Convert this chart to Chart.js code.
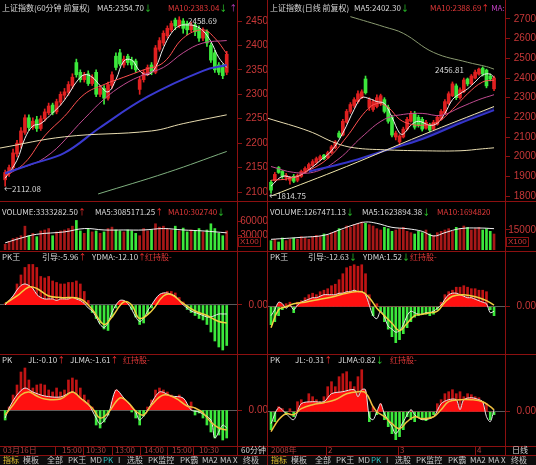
<!DOCTYPE html>
<html><head><meta charset="utf-8">
<script src="https://cdn.jsdelivr.net/npm/chart.js@4.4.0/dist/chart.umd.min.js"></script>
<style>
body{margin:0;background:#000;}
#wrap{position:relative;width:536px;height:465px;overflow:hidden;background:#000;font-family:"Noto Sans CJK SC",sans-serif;font-size:8px;}
canvas{position:absolute;}
.t{position:absolute;white-space:nowrap;line-height:10px;color:#d8d8d8;}
.u{color:#ff3030;} .d{color:#30e030;} .r{color:#e03838;} .p{color:#c040c0;} .g{color:#b04040;}
.hl{position:absolute;height:1px;background:#8c1010;}
.vl{position:absolute;width:1px;background:#8c1010;}
.box{position:absolute;border:1px solid #8c1010;color:#c83838;font-family:"Liberation Sans";font-size:8px;line-height:8px;padding:0 1px;}
#tabbar{position:absolute;left:0;top:456px;width:536px;height:9px;background:#0c0c0c;}
</style></head><body><div id="wrap">
<canvas id="priceL" width="268" height="201" style="left:0;top:0"></canvas>
<canvas id="priceR" width="268" height="201" style="left:268px;top:0"></canvas>
<canvas id="volL" width="268" height="48" style="left:0;top:202px"></canvas>
<canvas id="volR" width="268" height="48" style="left:268px;top:202px"></canvas>
<canvas id="pkwL" width="268" height="101" style="left:0;top:252px"></canvas>
<canvas id="pkwR" width="268" height="101" style="left:268px;top:252px"></canvas>
<canvas id="pkL" width="268" height="91" style="left:0;top:355px"></canvas>
<canvas id="pkR" width="268" height="91" style="left:268px;top:355px"></canvas>
<div id="tabbar"></div>

<div class="hl" style="left:0;top:201px;width:536px"></div>
<div class="hl" style="left:0;top:251px;width:536px"></div>
<div class="hl" style="left:0;top:354px;width:536px"></div>
<div class="hl" style="left:0;top:446px;width:536px"></div>
<div class="hl" style="left:0;top:455px;width:536px"></div>
<div class="vl" style="left:237px;top:0;height:455px"></div>
<div class="vl" style="left:267px;top:0;height:465px"></div>
<div class="vl" style="left:505px;top:0;height:455px"></div>
<div id="dateTicks"></div>

<div class="t" style="left:2px;top:3px">上证指数(60分钟 前复权)</div>
<div class="t" style="left:97px;top:3px">MA5:2354.70<span class="d">↓</span></div>
<div class="t r" style="left:168px;top:3px">MA10:2383.04<span class="d">↓</span> <span class="p">↑</span></div>
<div class="t" style="left:270px;top:3px">上证指数(日线 前复权)</div>
<div class="t" style="left:354px;top:3px">MA5:2402.30<span class="d">↓</span></div>
<div class="t r" style="left:430px;top:3px">MA10:2388.69<span class="u">↑</span> <span class="p">MA:</span></div>

<div class="t" style="left:188px;top:16px">2458.69</div>
<div class="t" style="left:4px;top:184px">←2112.08</div>
<div class="t" style="left:435px;top:65px">2456.81</div>
<div class="t" style="left:269px;top:191px">←1814.75</div>

<div class="t" style="left:2px;top:207px">VOLUME:3333282.50<span class="u">↑</span></div>
<div class="t" style="left:95px;top:207px">MA5:3085171.25<span class="u">↑</span></div>
<div class="t r" style="left:168px;top:207px">MA10:302740<span class="d">↓</span></div>
<div class="t" style="left:270px;top:207px">VOLUME:1267471.13<span class="d">↓</span></div>
<div class="t" style="left:362px;top:207px">MA5:1623894.38<span class="d">↓</span></div>
<div class="t r" style="left:437px;top:207px">MA10:1694820</div>
<div class="box" style="left:238px;top:237px">X100</div>
<div class="box" style="left:506px;top:237px">X100</div>

<div class="t" style="left:2px;top:252px">PK王</div>
<div class="t" style="left:42px;top:252px">引导:-5.96<span class="u">↑</span></div>
<div class="t" style="left:92px;top:252px">YDMA:-12.10<span class="u">↑</span></div>
<div class="t r" style="left:145px;top:252px">红持股-</div>
<div class="t" style="left:270px;top:252px">PK王</div>
<div class="t" style="left:308px;top:252px">引导:-12.63<span class="d">↓</span></div>
<div class="t" style="left:363px;top:252px">YDMA:1.52<span class="d">↓</span></div>
<div class="t r" style="left:410px;top:252px">红持股-</div>

<div class="t" style="left:2px;top:355px">PK</div>
<div class="t" style="left:28px;top:355px">JL:-0.10<span class="u">↑</span></div>
<div class="t" style="left:70px;top:355px">JLMA:-1.61<span class="u">↑</span></div>
<div class="t r" style="left:123px;top:355px">红持股-</div>
<div class="t" style="left:270px;top:355px">PK</div>
<div class="t" style="left:295px;top:355px">JL:-0.31<span class="u">↑</span></div>
<div class="t" style="left:338px;top:355px">JLMA:0.82<span class="d">↓</span></div>
<div class="t r" style="left:390px;top:355px">红持股-</div>

<div class="t g" style="left:3px;top:445px">03月16日</div>
<div class="t g" style="left:62px;top:445px">15:00</div>
<div class="t g" style="left:86px;top:445px">10:30</div>
<div class="t g" style="left:115px;top:445px">13:00</div>
<div class="t g" style="left:144px;top:445px">14:00</div>
<div class="t g" style="left:172px;top:445px">15:00</div>
<div class="t g" style="left:199px;top:445px">10:30</div>
<div class="t" style="left:241px;top:445px">60分钟</div>
<div class="t g" style="left:271px;top:445px">2008年</div>
<div class="t g" style="left:328px;top:445px">2</div>
<div class="t g" style="left:400px;top:445px">3</div>
<div class="t g" style="left:477px;top:445px">4</div>
<div class="t" style="left:512px;top:445px">日线</div>
<div id="tabs"></div>
</div>
<script>
// left: 60-minute candles
const openL = [2125,2138,2150,2178,2198,2222,2252,2232,2248,2230,2250,2262,2278,2264,2284,2298,2304,2318,2365,2345,2330,2342,2322,2345,2300,2312,2292,2318,2378,2385,2360,2378,2370,2368,2310,2330,2342,2360,2345,2392,2405,2420,2432,2452,2440,2450,2445,2432,2442,2435,2415,2428,2400,2385,2360,2355,2345];
const closeL = [2140,2150,2180,2200,2225,2252,2232,2245,2230,2250,2264,2276,2262,2285,2300,2305,2320,2335,2340,2330,2340,2322,2335,2300,2312,2292,2320,2340,2355,2362,2372,2365,2360,2350,2330,2345,2355,2345,2395,2410,2425,2435,2445,2440,2452,2435,2432,2442,2428,2415,2430,2405,2370,2350,2345,2338,2382];
const highL = [2145,2155,2188,2206,2232,2258,2258,2252,2255,2256,2270,2282,2282,2290,2305,2312,2326,2342,2372,2350,2345,2348,2340,2350,2318,2318,2325,2346,2385,2392,2378,2382,2376,2372,2335,2350,2360,2365,2400,2416,2430,2440,2450,2456,2458.69,2455,2450,2448,2446,2440,2436,2432,2405,2390,2365,2362,2388];
const lowL = [2112.08,2132,2145,2172,2190,2218,2226,2228,2224,2226,2245,2258,2258,2260,2278,2290,2298,2312,2335,2325,2325,2318,2318,2295,2295,2280,2288,2312,2350,2358,2355,2360,2352,2345,2300,2325,2338,2340,2342,2388,2400,2415,2428,2432,2436,2425,2422,2428,2420,2408,2410,2398,2365,2345,2340,2332,2340];
const ma5L = [[0,2128],[3,2165],[5,2210],[7,2235],[9,2240],[12,2262],[14,2278],[16,2300],[18,2325],[20,2340],[22,2335],[24,2318],[26,2305],[28,2330],[30,2368],[32,2370],[34,2348],[36,2340],[38,2355],[40,2395],[42,2425],[44,2440],[46,2442],[48,2440],[50,2430],[52,2408],[54,2375],[56,2355]];
const ma10L = [[0,2132],[5,2160],[10,2215],[15,2255],[20,2300],[25,2320],[30,2335],[35,2350],[40,2365],[45,2415],[50,2432],[53,2415],[56,2383]];
const ma20L = [[0,2140],[10,2170],[20,2250],[25,2290],[30,2320],[35,2340],[40,2355],[45,2385],[50,2405],[56,2410]];
const ma60L = [[0,2138],[7,2158],[15,2180],[24,2232],[36,2295],[50,2348],[56,2360]];
const ma120L = [[-1.3,2190],[15,2213],[37,2225],[45,2240],[56,2258]];
const ma250L = [[23.5,2096],[41,2140],[56,2183]];
const volL = [12000,18000,24000,26000,30000,50000,30000,35000,28000,40000,42000,45000,30000,38000,40000,42000,45000,50000,62000,40000,35000,45000,38000,40000,35000,38000,45000,48000,42000,40000,38000,42000,40000,35000,30000,45000,40000,42000,55000,48000,50000,45000,42000,50000,40000,46000,38000,42000,40000,45000,38000,42000,55000,45000,35000,30000,40000];
const volMaL = [[0,15000],[4,25000],[8,33000],[15,38000],[20,45000],[25,42000],[30,42000],[35,42000],[40,45000],[45,42000],[50,40000],[56,36000]];
const pkwHistL = [1,3,5,14,20,25,27,27,25,19,18,19,16,15,14,14,15,15,16,14,9,3,-5,-9,-12,-16,-17,-8,-2,2,3,1,-3,-8,-13,-12,-6,-2,2,6,8,9,9,8,5,2,-3,-5,-7,-9,-10,-13,-18,-24,-28,-30,-27];
const guideL = [0,3,6,10,13,14,13,11,7,5,4,4,4,3,4,4,4,5,4,3,1,-2,-4,-8,-13,-15,-12,-5,0,3,3,1,-3,-8,-11,-9,-4,0,4,7,8,8,7,6,3,0,-2,-4,-5,-6,-7,-8,-8,-7,-6,-6,-6];
const ydmaL = [[0,1],[3,6],[6,12],[8,11],[11,6],[14,5],[19,4],[22,-3],[25,-13],[27,-8],[30,2],[32,0],[34,-9],[37,-4],[40,6],[42,7],[45,1],[48,-4],[51,-7],[54,-11],[56,-12]];
const pkHistL = [-10,3,15,25,38,42,30,22,25,26,25,20,18,22,18,20,30,32,30,22,15,10,3,-15,-18,-12,-5,8,20,12,8,5,-2,-8,-15,-6,3,10,20,22,20,18,15,12,15,10,4,8,-5,-3,-8,-15,-22,-28,-25,-30,-28];
const jlL = [[0,-8],[1,2],[3,15],[5,22],[7,18],[10,14],[14,13],[17,18],[19,12],[21,6],[23,-8],[24,-14],[26,-5],[28,20],[30,12],[33,-2],[34,-10],[36,0],[39,18],[42,14],[45,12],[47,0],[49,-2],[52,-10],[53,-28],[55,-15],[56,-18]];
const jlmaL = [[0,-5],[2,5],[4,15],[6,18],[8,14],[10,11],[14,11],[17,18],[19,12],[22,2],[24,-8],[26,-3],[29,12],[31,8],[33,-1],[35,-5],[37,5],[40,15],[43,12],[46,4],[48,2],[50,-3],[52,-12],[54,-18],[56,-20]];

// right: daily candles
const openR = [1870,1880,1945,1925,1895,1880,1900,1880,1900,1920,1935,1955,1970,1985,2008,1995,2020,2045,2120,2110,2175,2230,2260,2280,2300,2395,2250,2240,2255,2270,2290,2250,2200,2100,2075,2100,2140,2180,2220,2200,2190,2145,2160,2140,2165,2190,2220,2270,2310,2360,2300,2330,2395,2370,2400,2420,2450,2440,2410,2345];
const closeR = [1830,1910,1920,1900,1905,1895,1875,1905,1925,1940,1960,1975,1990,2000,1990,2020,2050,2075,2100,2180,2230,2265,2290,2320,2330,2325,2290,2280,2300,2310,2230,2180,2110,2120,2105,2140,2190,2220,2150,2160,2140,2175,2135,2175,2200,2230,2280,2320,2370,2300,2340,2390,2370,2410,2430,2445,2420,2360,2395,2400];
const highR = [1880,1920,1950,1930,1915,1900,1910,1912,1932,1948,1968,1985,1998,2008,2012,2028,2058,2082,2130,2190,2240,2275,2300,2335,2340,2410,2300,2290,2315,2318,2300,2262,2210,2130,2112,2150,2200,2230,2230,2210,2200,2185,2170,2185,2210,2240,2290,2330,2380,2370,2350,2400,2400,2418,2440,2450,2456.81,2445,2420,2410];
const lowR = [1814.75,1875,1915,1890,1880,1860,1868,1872,1895,1915,1930,1950,1962,1978,1985,1990,2015,2040,2095,2105,2170,2220,2250,2272,2295,2318,2235,2230,2248,2260,2222,2170,2100,2085,2050,2095,2135,2175,2140,2150,2130,2140,2125,2135,2160,2185,2215,2265,2305,2290,2292,2325,2360,2365,2395,2415,2410,2350,2385,2335];
const ma5R = [[0,1850],[3,1900],[6,1895],[9,1920],[13,1980],[16,2030],[19,2120],[22,2240],[24,2300],[26,2295],[28,2280],[30,2270],[32,2200],[34,2120],[35,2115],[37,2160],[39,2180],[42,2160],[44,2170],[46,2220],[48,2290],[50,2320],[52,2345],[54,2380],[56,2415],[58,2420],[59,2402]];
const ma10R = [[0,1880],[5,1890],[10,1930],[15,1990],[20,2100],[25,2230],[28,2270],[31,2250],[34,2190],[37,2165],[40,2160],[44,2175],[48,2240],[52,2320],[56,2380],[59,2389]];
const ma20R = [[0,1950],[6,1920],[12,1925],[18,1990],[24,2100],[30,2190],[35,2215],[40,2220],[45,2210],[50,2250],[55,2290],[59,2315]];
const ma30R = [[10,1925],[20,1970],[30,2030],[40,2090],[50,2170],[59,2237]];
const ma60R = [[0,1800],[20,1950],[40,2110],[59,2255]];
const ma120R = [[-0.8,2195],[10,2130],[17,2070],[22,2045],[30,2035],[40,2030],[50,2030],[56,2040],[59,2045]];
const ma250R = [[21,2712],[30,2660],[35,2627],[43,2530],[52,2480],[57,2458],[59,2445]];
const volR = [7000,8000,6000,9000,7000,8000,9000,8000,10000,9000,8000,10000,11000,10000,12000,11000,13000,14000,16000,15000,18000,17000,19000,20000,21000,20000,19000,18000,16000,15000,17000,16000,14000,15000,16000,17000,14000,13000,12000,14000,13000,15000,12000,11000,13000,14000,15000,16000,14000,17000,16000,18000,17000,15000,16000,17000,15000,16000,14000,12000];
const volMaR = [[0,8000],[8,9500],[14,11000],[18,15000],[22,19000],[25,21000],[28,20000],[32,17000],[36,16000],[40,14000],[43,10500],[46,13000],[50,16000],[55,16500],[59,16000]];
const pkwHistR = [-12,-10,-6,-2,2,3,-4,3,4,6,8,9,8,10,11,12,14,15,18,22,26,27,28,27,28,22,8,-6,2,-3,-10,-15,-20,-24,-22,-18,-14,-10,-7,-6,-5,-5,-6,-5,-2,3,8,10,11,13,13,14,13,12,12,11,11,10,-2,-6];
const guideR = [-6,-2,3,2,-1,1,-2,1,3,4,5,6,6,7,8,8,8,8,9,9,10,10,11,10,10,8,1,-6,-8,-3,-7,-13,-15,-17,-16,-12,-6,-3,-4,-5,-5,-4,-4,-3,-1,1,5,8,9,9,8,7,6,6,5,4,3,2,-4,-3];
const ydmaR = [[0,-14],[2,-2],[4,0],[6,2],[9,3],[13,5],[17,7],[20,9],[24,10],[26,6],[28,-1],[30,-6],[32,-11],[34,-16],[36,-11],[38,-6],[40,-5],[42,-4],[44,-3],[46,3],[48,7],[51,8],[55,6],[57,4],[59,1]];
const pkHistR = [-18,-10,5,3,-3,3,-5,10,12,8,18,15,12,10,15,25,30,25,35,38,40,30,25,35,42,20,-10,5,-3,8,-8,-15,-22,-28,-25,-18,-5,-8,-10,-6,-8,-9,-6,-3,8,12,18,20,22,18,20,15,18,17,15,14,10,8,-8,-3];
const jlR = [[0,-12],[2,4],[4,-2],[6,-8],[8,8],[11,10],[14,10],[16,18],[19,20],[22,22],[23,15],[24,22],[25,22],[26,-5],[27,-8],[28,0],[29,8],[30,-2],[32,-15],[33,-22],[35,-10],[37,2],[38,-3],[40,-8],[43,-5],[45,8],[47,12],[49,12],[50,2],[51,12],[53,14],[55,12],[56,10],[57,-5],[58,-10],[59,2]];
const jlmaR = [[0,-20],[2,-8],[4,-2],[6,-3],[8,3],[11,7],[14,9],[17,12],[20,18],[23,20],[25,19],[27,5],[28,0],[30,-5],[32,-12],[34,-17],[36,-10],[38,-5],[40,-7],[43,-5],[45,2],[47,10],[50,12],[53,12],[56,10],[58,5],[59,2]];

const priceTicksL = [2100,2150,2200,2250,2300,2350,2400,2450];
const priceTicksR = [1800,1900,2000,2100,2200,2300,2400,2500,2600,2700];
const volTicksL = [30000,60000];
const volTicksR = [15000];
const zeroTicks = [0];
const tabNames = ['指标','模板','全部','PK王','MD','PK','I','选股','PK监控','PK霸','MA2','MA','X','终极'];

const UP = '#e02020', DOWN = '#3ce83c', FRAME = '#8c1010', TICK = '#c83838';
const xrL = [-1.3, 58.6], xrR = [-0.8, 61.9];

function pts(pairs) { return pairs.map(p => ({x: p[0], y: p[1]})); }
function line(pairs, color, width) {
  return {type: 'line', data: pts(pairs), borderColor: color, borderWidth: width || 1, pointRadius: 0, tension: 0.4, order: 1};
}
function candles(open, high, low, close) {
  const col = open.map((o, i) => close[i] >= o ? UP : DOWN);
  return [
    {type: 'bar', data: high.map((h, i) => ({x: i, y: [low[i], h]})), backgroundColor: col, barThickness: 1, grouped: false, order: 3},
    {type: 'bar', data: open.map((o, i) => ({x: i, y: [o, close[i]]})), backgroundColor: col, barThickness: 3, grouped: false, order: 2, minBarLength: 1}
  ];
}
function volBars(vol, open, close) {
  return {type: 'bar', data: vol.map((v, i) => ({x: i, y: v})), backgroundColor: open.map((o, i) => close[i] >= o ? '#a81818' : DOWN), barThickness: 2, grouped: false, order: 3};
}
function hist(values) {
  return {type: 'bar', data: values.map((v, i) => ({x: i, y: v})), backgroundColor: values.map(v => v >= 0 ? '#c01414' : DOWN), barThickness: 2, grouped: false, order: 3};
}
function filled(values) {
  return {type: 'line', data: values.map((v, i) => ({x: i, y: v})), borderColor: '#e8e8e8', borderWidth: 1, pointRadius: 0, tension: 0.3,
    fill: {target: 'origin', above: '#ff1010', below: 'rgba(0,0,0,0)'}, order: 2};
}
function filledPairs(pairs) {
  return {type: 'line', data: pts(pairs), borderColor: '#e8e8e8', borderWidth: 1, pointRadius: 0, tension: 0.3,
    fill: {target: 'origin', above: '#ff1010', below: 'rgba(0,0,0,0)'}, order: 2};
}

function panel(id, datasets, yMin, yMax, ticks, fmt, zeroLine, xr) {
  new Chart(document.getElementById(id), {
    type: 'bar',
    data: {datasets: datasets},
    options: {
      responsive: false, animation: false, events: [],
      plugins: {legend: {display: false}, tooltip: {enabled: false}},
      layout: {padding: 0},
      scales: {
        x: {type: 'linear', display: false, min: xr[0], max: xr[1], offset: false},
        y: {
          position: 'right', min: yMin, max: yMax,
          afterBuildTicks: s => { s.ticks = ticks.map(v => ({value: v})); },
          afterFit: s => { s.width = 31; s.paddingTop = 0; s.paddingBottom = 0; },
          grid: {drawOnChartArea: zeroLine, color: '#5a5a5a', tickLength: 5, tickColor: FRAME},
          border: {color: FRAME},
          ticks: {color: TICK, font: {family: 'Liberation Sans', size: 10}, padding: 0, crossAlign: 'far', autoSkip: false, callback: fmt}
        }
      }
    }
  });
}

const asInt = v => String(v);
const asZero = v => v.toFixed(2);

panel('priceL', [
  ...candles(openL, highL, lowL, closeL),
  line(ma250L, '#7fb07f'), line(ma120L, '#e8dcb0'), line(ma60L, '#3a3ad0', 2),
  line(ma20L, '#c04a90'), line(ma10L, '#ff5050'), line(ma5L, '#f0f0f0')
], 2081.6, 2493, priceTicksL, asInt, false, xrL);

panel('priceR', [
  ...candles(openR, highR, lowR, closeR),
  line(ma250R, '#8a9a70'), line(ma120R, '#e8dcb0'), line(ma60R, '#f0e6a8'),
  Object.assign(line(ma30R, '#3434c8', 2), {fill: {target: 4, above: 'rgba(0,0,0,0)', below: 'rgba(30,30,140,0.55)'}}),
  line(ma20R, '#c04a90'), line(ma10R, '#ff5050'), line(ma5R, '#f0f0f0')
], 1774.6, 2796.6, priceTicksR, asInt, false, xrR);

panel('volL', [volBars(volL, openL, closeL), line(volMaL, '#f0f0f0')], 0, 100700, volTicksL, asInt, false, xrL);
panel('volR', [volBars(volR, openR, closeR), line(volMaR, '#f0f0f0')], 0, 36000, volTicksR, asInt, false, xrR);

panel('pkwL', [hist(pkwHistL), filled(guideL), line(ydmaL, '#f0d040', 1.5)], -32, 35.3, zeroTicks, asZero, true, xrL);
panel('pkwR', [hist(pkwHistR), filled(guideR), line(ydmaR, '#f0d040', 1.5)], -30.9, 36.5, zeroTicks, asZero, true, xrR);

panel('pkL', [hist(pkHistL), filledPairs(jlL), line(jlmaL, '#f0c040', 1.5)], -36, 55, zeroTicks, asZero, true, xrL);
panel('pkR', [hist(pkHistR), filledPairs(jlR), line(jlmaR, '#f0c040', 1.5)], -34.3, 56.7, zeroTicks, asZero, true, xrR);

// small separators in the date row
const dateTickX = [55, 83, 112, 140, 167, 193, 326, 398, 475];
const dt = document.getElementById('dateTicks');
dateTickX.forEach(x => {
  const d = document.createElement('div');
  d.className = 'vl';
  d.style.left = x + 'px'; d.style.top = '447px'; d.style.height = '8px';
  dt.appendChild(d);
});

// bottom tab bars (same on both halves)
const tabX = [3,23,47,68,90,103,118,127,148,180,202,220,233,243];
const tabs = document.getElementById('tabs');
[0, 268].forEach(off => {
  tabNames.forEach((name, i) => {
    const d = document.createElement('div');
    d.className = 't';
    d.style.left = (off + tabX[i]) + 'px';
    d.style.top = '455px';
    d.style.color = name === '指标' ? '#e0c030' : (name === 'PK' ? '#30c0c0' : '#c8c8c8');
    d.textContent = name;
    tabs.appendChild(d);
  });
});
</script>
</body></html>
